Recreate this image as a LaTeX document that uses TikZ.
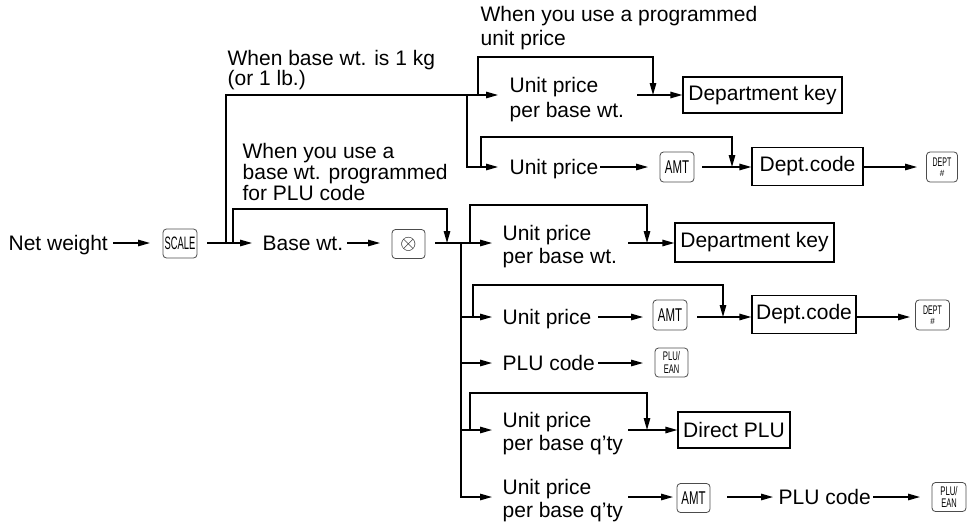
\documentclass[tikz,border=0pt]{standalone}
\usepackage{fontspec}
\setmainfont{Liberation Sans}
\usepackage{graphicx}
\usetikzlibrary{arrows.meta}
\begin{document}
\begin{tikzpicture}[x=1pt,y=-1pt,
  line width=1.3pt,
  arr/.style={-{Triangle[length=12pt,width=6.5pt]}},
  txt/.style={inner sep=0pt,anchor=base west,font=\fontsize{21}{23}\selectfont},
  ml/.style={inner sep=0pt,align=left,anchor=north west,font=\fontsize{21}{#1}\selectfont},
  keyk/.style={draw=black!70,line width=0.8pt,rounded corners=3.5pt,inner sep=0pt,
    minimum width=34pt,minimum height=29pt,align=center},
  boxk/.style={draw,line width=1.3pt,inner sep=0pt,minimum height=37pt,
    font=\fontsize{21}{23}\selectfont},
  amtlbl/.style={font=\fontsize{18.5}{19}\selectfont},
  deptlbl/.style={font=\fontsize{12.5}{10}\selectfont},
  plulbl/.style={font=\fontsize{12.5}{12.5}\selectfont}
]
\useasboundingbox (0,0) rectangle (969,525);

% ---------- text nodes ----------
\node[txt] (nw) at (8,250.5) {Net weight};
\node[txt] (basewt) at (262,250.5) {Base wt.};
\node[ml=24] (a1) at (480,6) {When you use a programmed\\unit price};
\node[ml=20] (a2) at (227,50) {When base wt. is 1 kg\\(or 1 lb.)};
\node[ml=21] (a3) at (242,143) {When you use a\\base wt. programmed\\for PLU code};
\node[ml=25] (upw1) at (509,77) {Unit price\\per base wt.};
\node[txt] (up2) at (509,174.5) {Unit price};
\node[ml=23] (upw2) at (502,225) {Unit price\\per base wt.};
\node[txt] (up3) at (502,324.5) {Unit price};
\node[txt] (pc1) at (502,370.5) {PLU code};
\node[ml=23] (upq1) at (502,412) {Unit price\\per base q'ty};
\node[ml=23] (upq2) at (502,479) {Unit price\\per base q'ty};
\node[txt] (pc2) at (778,504.5) {PLU code};

% ---------- keys ----------
\node[keyk] (scale) at (180,243.5) {\scalebox{0.52}[1]{\fontsize{18}{18}\selectfont SCALE}};
\node[keyk,minimum width=33pt] (otimes) at (408.5,244) {\fontsize{20.74}{21}\selectfont$\otimes$};
\node[keyk,minimum height=30pt,amtlbl] (amt1) at (677,167) {\scalebox{0.62}[1]{AMT}};
\node[keyk,minimum width=31pt,minimum height=30pt,deptlbl] (dept1) at (942,167)
  {\scalebox{0.56}[1]{DEPT}\\[0pt]\scalebox{0.9}[1]{\fontsize{9}{9}\selectfont\#}};
\node[keyk,minimum height=30pt,amtlbl] (amt2) at (670,315) {\scalebox{0.62}[1]{AMT}};
\node[keyk,minimum width=34pt,minimum height=30pt,deptlbl] (dept2) at (932.5,315)
  {\scalebox{0.56}[1]{DEPT}\\[0pt]\scalebox{0.9}[1]{\fontsize{9}{9}\selectfont\#}};
\node[keyk,minimum width=33pt,plulbl] (plu1) at (671.5,362.5)
  {\scalebox{0.62}[1]{PLU/}\\\scalebox{0.6}[1]{EAN}};
\node[keyk,minimum width=33pt,amtlbl] (amt3) at (693.5,498) {\scalebox{0.62}[1]{AMT}};
\node[keyk,plulbl] (plu2) at (949,497)
  {\scalebox{0.62}[1]{PLU/}\\\scalebox{0.6}[1]{EAN}};

% ---------- boxes ----------
\node[boxk,minimum width=159pt,minimum height=36pt] (dk1) at (762.5,95) {Department key};
\node[boxk,minimum width=111pt,minimum height=38pt] (dc1) at (807.5,166.5) {Dept.code};
\node[boxk,minimum width=159pt,minimum height=39pt] (dk2) at (754.5,242.5) {Department key};
\node[boxk,minimum width=104pt,minimum height=38pt] (dc2) at (804,314.5) {Dept.code};
\node[boxk,minimum width=112pt,minimum height=36pt] (dplu) at (734,430) {Direct PLU};

% ---------- junction coordinates ----------
\coordinate (jA) at (226,243);
\coordinate (jL) at (233,243);
\coordinate (tT1) at (498,95);
\coordinate (jT1) at (478,95);
\coordinate (jT2) at (467,95);
\coordinate (tT2) at (498,167);
\coordinate (jT3) at (481,167);
\coordinate (jB) at (461,243);
\coordinate (tB1) at (492,243);
\coordinate (jB1) at (470,243);
\coordinate (tB2) at (492,317);
\coordinate (jB2) at (461,317);
\coordinate (jB2l) at (473,317);
\coordinate (tB3) at (492,363);
\coordinate (jB3) at (461,363);
\coordinate (tB4) at (492,430);
\coordinate (jB4) at (461,430);
\coordinate (jB4l) at (470,430);
\coordinate (tB5) at (492,497);

% ---------- main line ----------
\draw[arr] (113,243) -- (150,243);
\draw[arr] (207,243) -- (252,243);
\draw[arr] (347,243) -- (380,243);
\draw[arr] (435,243) -- (tB1);

% ---------- upper branch ----------
\draw[arr] (jA) |- (tT1);
\draw[arr] (jT1) |- (653,57) -- (653,95);
\draw[arr] (637,95) -- (dk1.west);
\draw[arr] (jT2) |- (tT2);
\draw[arr] (jT3) |- (732,137) -- (732,167);
\draw[arr] (600,167) -- (648,167);
\draw[arr] (702,167) -- (dc1.west |- 0,167);
\draw[arr] (dc1.east |- 0,167) -- (917,167);

% ---------- lower branch ----------
\draw[arr] (jL) |- (447,209) -- (447,243);
\draw[arr] (jB) |- (tB5);
\draw[arr] (jB2) -- (tB2);
\draw[arr] (jB3) -- (tB3);
\draw[arr] (jB4) -- (tB4);
\draw[arr] (jB1) |- (647,205) -- (647,243);
\draw[arr] (628,243) -- (dk2.west |- 0,243);
\draw[arr] (jB2l) |- (723,285) -- (723,317);
\draw[arr] (598,317) -- (643,317);
\draw[arr] (697,317) -- (dc2.west |- 0,317);
\draw[arr] (dc2.east |- 0,317) -- (910,317);
\draw[arr] (598,363) -- (643,363);
\draw[arr] (jB4l) |- (647,393) -- (647,430);
\draw[arr] (628,430) -- (dplu.west);
\draw[arr] (628,497) -- (673,497);
\draw[arr] (727,497) -- (773,497);
\draw[arr] (873,497) -- (920,497);
\end{tikzpicture}
\end{document}
